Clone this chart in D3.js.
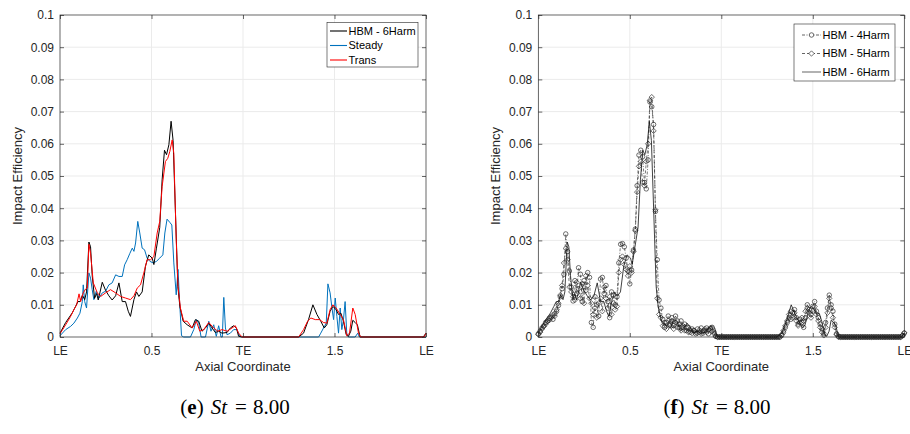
<!DOCTYPE html>
<html><head><meta charset="utf-8">
<script src="https://cdn.jsdelivr.net/npm/d3@7"></script>
<style>body{margin:0;background:#fff} svg{display:block}</style>
</head><body>
<script>
// ---------- tick labels ----------
const xTickVals = [0, 0.5, 1, 1.5, 2];
const xTickLabels = ["LE", "0.5", "TE", "1.5", "LE"];
const yTickVals = [0, 0.01, 0.02, 0.03, 0.04, 0.05, 0.06, 0.07, 0.08, 0.09, 0.1];
const yTickLabels = ["0", "0.01", "0.02", "0.03", "0.04", "0.05", "0.06", "0.07", "0.08", "0.09", "0.1"];

// ---------- panel (e) series ----------
const hbm6X = [0,0.031,0.067,0.085,0.098,0.11,0.122,0.135,0.145,0.158,0.167,0.176,0.189,0.2,0.209,0.231,0.249,0.267,0.285,0.304,0.322,0.34,0.358,0.373,0.385,0.404,0.418,0.431,0.449,0.467,0.485,0.504,0.513,0.527,0.545,0.558,0.571,0.582,0.595,0.607,0.618,0.631,0.644,0.655,0.673,0.695,0.722,0.74,0.758,0.776,0.795,0.813,0.831,0.849,0.867,0.885,0.913,0.931,0.949,0.964,0.976,0.995,1.304,1.331,1.358,1.382,1.404,1.425,1.444,1.458,1.476,1.491,1.509,1.522,1.535,1.549,1.564,1.576,1.589,1.6,1.613,1.625,1.64,1.985,2.0];
const hbm6Y = [0.0012,0.0045,0.0075,0.0095,0.011,0.011,0.013,0.0116,0.014,0.0295,0.028,0.019,0.012,0.0135,0.0115,0.017,0.0145,0.0128,0.0115,0.0128,0.0168,0.011,0.011,0.008,0.0064,0.0116,0.014,0.0126,0.014,0.022,0.0255,0.0245,0.0225,0.0276,0.034,0.0488,0.058,0.0566,0.0597,0.067,0.061,0.0385,0.0157,0.0095,0.0049,0.0038,0.0028,0.0054,0.0049,0.0018,0.0028,0.0043,0.0028,0.0014,0.0018,0.0012,0.0014,0.0028,0.0035,0.0028,0.0002,0,0,0.0012,0.0054,0.01,0.007,0.0049,0.0028,0.0038,0.008,0.0095,0.0085,0.007,0.0074,0.0049,0.0007,0.0002,0.0018,0.0052,0.0045,0.0038,0,0,0.0012];

const steadyX = [0,0.031,0.058,0.076,0.095,0.109,0.122,0.127,0.135,0.145,0.158,0.167,0.176,0.185,0.198,0.213,0.231,0.249,0.267,0.285,0.304,0.322,0.34,0.353,0.367,0.382,0.395,0.404,0.413,0.425,0.436,0.449,0.462,0.476,0.491,0.509,0.527,0.545,0.562,0.573,0.585,0.6,0.611,0.622,0.635,0.645,0.653,0.664,0.676,0.713,0.731,0.745,0.758,0.771,0.795,0.813,0.825,0.84,0.854,0.867,0.88,0.887,0.895,0.904,0.913,0.931,0.949,0.967,0.982,0.995,1.413,1.425,1.44,1.455,1.464,1.476,1.485,1.495,1.504,1.513,1.522,1.531,1.54,1.549,1.558,1.567,1.576,1.613,1.627,1.636,2.0];
const steadyY = [0.0004,0.0023,0.0033,0.0043,0.0059,0.0074,0.011,0.0162,0.011,0.009,0.0199,0.0183,0.0147,0.0116,0.0142,0.0121,0.0137,0.0142,0.0162,0.0168,0.0193,0.0188,0.0188,0.0224,0.024,0.026,0.0276,0.0266,0.0292,0.0359,0.0323,0.0276,0.0271,0.0245,0.0235,0.023,0.0235,0.0245,0.0255,0.0323,0.0366,0.0356,0.0348,0.023,0.0131,0.021,0.0116,0.0004,0,0,0.0023,0.0054,0.0043,0,0,0.0049,0.0018,0.0038,0.0002,0.0035,0,0,0.0123,0.0028,0.0007,0.0012,0.0023,0.0023,0.0002,0,0,0.0012,0.0028,0.0043,0.0165,0.0137,0.0095,0.0054,0.0121,0.0064,0.0012,0.009,0.0023,0.0054,0.011,0.0012,0,0,0.0012,0,0];

const transX = [0,0.031,0.058,0.076,0.091,0.104,0.113,0.127,0.14,0.149,0.158,0.167,0.182,0.204,0.222,0.249,0.276,0.304,0.331,0.358,0.385,0.404,0.422,0.44,0.458,0.476,0.495,0.513,0.531,0.545,0.558,0.576,0.589,0.6,0.613,0.622,0.635,0.645,0.658,0.676,0.695,0.722,0.745,0.764,0.785,0.813,0.84,0.862,0.885,0.913,0.94,0.958,0.976,0.995,1.304,1.331,1.353,1.371,1.395,1.418,1.44,1.458,1.476,1.491,1.509,1.531,1.549,1.567,1.582,1.6,1.613,1.631,1.644,1.99,2.0];
const transY = [0.001,0.0038,0.0064,0.0085,0.01,0.0134,0.011,0.0137,0.0149,0.0152,0.0288,0.026,0.0168,0.0137,0.0126,0.0137,0.0147,0.0137,0.0126,0.0121,0.0116,0.0128,0.0152,0.0162,0.0199,0.024,0.024,0.025,0.0323,0.0359,0.0467,0.0545,0.0555,0.0576,0.0612,0.057,0.0302,0.0157,0.009,0.0049,0.0049,0.0028,0.0049,0.0018,0.0023,0.0045,0.0028,0.0018,0.0023,0.0018,0.0028,0.0035,0.0012,0,0,0.0023,0.0049,0.0059,0.0054,0.0054,0.0045,0.0043,0.0085,0.01,0.009,0.007,0.0054,0.0004,0.0012,0.009,0.007,0.0012,0,0,0.0012];

// ---------- panel (f) series (sampled on the axial grid) ----------
const axialGrid = [
0,0.01,0.02,0.03,0.04,0.05,0.06,0.07,0.08,0.09,
0.1,0.11,0.12,0.13,0.14,0.15,0.16,0.17,0.18,0.19,
0.2,0.21,0.22,0.23,0.24,0.25,0.26,0.27,0.28,0.29,
0.3,0.31,0.32,0.33,0.34,0.35,0.36,0.37,0.38,0.39,
0.4,0.41,0.42,0.43,0.44,0.45,0.46,0.47,0.48,0.49,
0.5,0.51,0.52,0.53,0.54,0.55,0.56,0.57,0.58,0.59,
0.6,0.61,0.62,0.63,0.64,0.65,0.66,0.67,0.68,0.69,
0.7,0.71,0.72,0.73,0.74,0.75,0.76,0.77,0.78,0.79,
0.8,0.81,0.82,0.83,0.84,0.85,0.86,0.87,0.88,0.89,
0.9,0.91,0.92,0.93,0.94,0.95,0.96,0.97,0.98,0.99,
1,1.01,1.02,1.03,1.04,1.05,1.06,1.07,1.08,1.09,
1.1,1.11,1.12,1.13,1.14,1.15,1.16,1.17,1.18,1.19,
1.2,1.21,1.22,1.23,1.24,1.25,1.26,1.27,1.28,1.29,
1.3,1.31,1.32,1.33,1.34,1.35,1.36,1.37,1.38,1.39,
1.4,1.41,1.42,1.43,1.44,1.45,1.46,1.47,1.48,1.49,
1.5,1.51,1.52,1.53,1.54,1.55,1.56,1.57,1.58,1.59,
1.6,1.61,1.62,1.63,1.64,1.65,1.66,1.67,1.68,1.69,
1.7,1.71,1.72,1.73,1.74,1.75,1.76,1.77,1.78,1.79,
1.8,1.81,1.82,1.83,1.84,1.85,1.86,1.87,1.88,1.89,
1.9,1.91,1.92,1.93,1.94,1.95,1.96,1.97,1.98,1.99,
2];
const harm4Y = [
0.0010,0.0018,0.0028,0.0035,0.0045,0.0050,0.0058,0.0062,0.0055,0.0072,
0.0080,0.0098,0.0125,0.0150,0.0195,0.0320,0.0265,0.0205,0.0155,0.0112,
0.0175,0.0135,0.0215,0.0195,0.0110,0.0175,0.0145,0.0200,0.0185,0.0045,
0.0030,0.0125,0.0100,0.0065,0.0180,0.0185,0.0135,0.0160,0.0110,0.0060,
0.0140,0.0130,0.0100,0.0125,0.0230,0.0288,0.0290,0.0280,0.0245,0.0205,
0.0165,0.0208,0.0270,0.0335,0.0470,0.0565,0.0580,0.0560,0.0480,0.0460,
0.0550,0.0730,0.0715,0.0660,0.0390,0.0240,0.0115,0.0090,0.0055,0.0030,
0.0045,0.0065,0.0040,0.0060,0.0035,0.0065,0.0050,0.0030,0.0050,0.0030,
0.0040,0.0020,0.0030,0.0015,0.0025,0.0020,0.0010,0.0025,0.0015,0.0028,
0.0012,0.0020,0.0028,0.0010,0.0025,0.0030,0.0015,0.0002,0,0,
0,0,0,0,0,0,0,0,0,0,
0,0,0,0,0,0,0,0,0,0,
0,0,0,0,0,0,0,0,0,0,
0,0,0,0.0005,0.0015,0.0030,0.0045,0.0060,0.0055,0.0075,
0.0085,0.0060,0.0040,0.0055,0.0045,0.0030,0.0060,0.0100,0.0085,0.0070,
0.0095,0.0110,0.0080,0.0060,0.0040,0.0025,0.0010,0.0045,0.0090,0.0130,
0.0100,0.0080,0.0040,0.0010,0.0002,0,0,0,0,0,
0,0,0,0,0,0,0,0,0,0,
0,0,0,0,0,0,0,0,0,0,
0,0,0,0,0,0,0,0,0,0.0004,
0.0012];
const harm5Y = [
0.0008,0.0015,0.0025,0.0033,0.0040,0.0048,0.0052,0.0060,0.0068,0.0065,
0.0085,0.0105,0.0130,0.0160,0.0230,0.0275,0.0240,0.0155,0.0140,0.0125,
0.0115,0.0170,0.0150,0.0120,0.0165,0.0105,0.0190,0.0160,0.0120,0.0105,
0.0070,0.0090,0.0060,0.0105,0.0120,0.0080,0.0155,0.0120,0.0090,0.0125,
0.0070,0.0105,0.0085,0.0095,0.0200,0.0240,0.0250,0.0225,0.0210,0.0190,
0.0220,0.0200,0.0265,0.0330,0.0450,0.0530,0.0545,0.0480,0.0470,0.0545,
0.0600,0.0735,0.0745,0.0640,0.0395,0.0120,0.0070,0.0060,0.0035,0.0045,
0.0025,0.0050,0.0035,0.0050,0.0025,0.0045,0.0030,0.0040,0.0020,0.0035,
0.0020,0.0028,0.0015,0.0022,0.0012,0.0020,0.0015,0.0012,0.0022,0.0010,
0.0018,0.0025,0.0015,0.0022,0.0028,0.0018,0.0010,0.0002,0,0,
0,0,0,0,0,0,0,0,0,0,
0,0,0,0,0,0,0,0,0,0,
0,0,0,0,0,0,0,0,0,0,
0,0,0,0.0008,0.0020,0.0035,0.0050,0.0070,0.0080,0.0060,
0.0075,0.0050,0.0035,0.0045,0.0060,0.0050,0.0080,0.0090,0.0075,0.0060,
0.0080,0.0095,0.0070,0.0050,0.0030,0.0015,0.0005,0.0030,0.0075,0.0120,
0.0090,0.0060,0.0030,0.0008,0,0,0,0,0,0,
0,0,0,0,0,0,0,0,0,0,
0,0,0,0,0,0,0,0,0,0,
0,0,0,0,0,0,0,0,0,0.0005,
0.0013];

const legendE = ["HBM - 6Harm", "Steady", "Trans"];
const legendF = ["HBM - 4Harm", "HBM - 5Harm", "HBM - 6Harm"];

// ---------- drawing ----------
const FONT = "'Liberation Sans', Arial, Helvetica, sans-serif";
const AX = "#262626";
const svg = d3.select("body").append("svg").attr("width", 910).attr("height", 434)
  .style("font-family", FONT);

function panel(x0, x1) {
  const x = d3.scaleLinear().domain([0, 2]).range([x0, x1]);
  const y = d3.scaleLinear().domain([0, 0.1]).range([337, 15]);
  const g = svg.append("g");
  g.append("g").selectAll("line").data(yTickVals.slice(1, -1)).join("line")
    .attr("x1", x0).attr("x2", x1).attr("y1", d => y(d)).attr("y2", d => y(d))
    .attr("stroke", "#ebebeb").attr("stroke-width", 1);
  g.append("g").selectAll("line").data(xTickVals.slice(1, -1)).join("line")
    .attr("x1", d => x(d)).attr("x2", d => x(d)).attr("y1", 15).attr("y2", 337)
    .attr("stroke", "#ebebeb").attr("stroke-width", 1);
  return { x, y, g };
}

function axes(p, x0, x1) {
  const { x, y, g } = p;
  const style = sel => {
    sel.select(".domain").remove();
    sel.selectAll("line").attr("stroke", AX).attr("stroke-width", 0.7);
    sel.selectAll("text").attr("fill", AX).style("font-family", FONT).style("font-size", "12px");
  };
  g.append("g").attr("transform", "translate(0,337)")
    .call(d3.axisBottom(x).tickValues(xTickVals).tickFormat((d, i) => xTickLabels[i]).tickSize(-4).tickPadding(9))
    .call(style);
  g.append("g").attr("transform", "translate(0,15)")
    .call(d3.axisTop(x).tickValues(xTickVals).tickFormat("").tickSize(-4)).call(style);
  g.append("g").attr("transform", `translate(${x0},0)`)
    .call(d3.axisLeft(y).tickValues(yTickVals).tickFormat((d, i) => yTickLabels[i]).tickSize(-4).tickPadding(6))
    .call(style);
  g.append("g").attr("transform", `translate(${x1},0)`)
    .call(d3.axisRight(y).tickValues(yTickVals).tickFormat("").tickSize(-4)).call(style);
  g.append("rect").attr("x", x0).attr("y", 15).attr("width", x1 - x0).attr("height", 322)
    .attr("fill", "none").attr("stroke", AX).attr("stroke-width", 0.7);
  g.append("text").attr("x", (x0 + x1) / 2).attr("y", 371).attr("text-anchor", "middle")
    .attr("fill", AX).style("font-size", "13px").text("Axial Coordinate");
  g.append("text").attr("transform", `translate(${x0 - 38.5},176) rotate(-90)`).attr("text-anchor", "middle")
    .attr("fill", AX).style("font-size", "13px").text("Impact Efficiency");
}

// ---- panel e ----
const E0 = 60, E1 = 426;
const pe = panel(E0, E1);
const lineE = d3.line().x(d => pe.x(d[0])).y(d => pe.y(d[1]));
const seriesE = [
  { x: steadyX, y: steadyY, color: "#0072BD" },
  { x: hbm6X, y: hbm6Y, color: "#000000" },
  { x: transX, y: transY, color: "#FF0000" }
];
seriesE.forEach(s => {
  pe.g.append("path").datum(d3.zip(s.x, s.y)).attr("d", lineE)
    .attr("fill", "none").attr("stroke", s.color).attr("stroke-width", 1).attr("stroke-linejoin", "round");
});
axes(pe, E0, E1);
{
  const lg = svg.append("g");
  lg.append("rect").attr("x", 327).attr("y", 22.5).attr("width", 91).attr("height", 44.5)
    .attr("fill", "#fff").attr("stroke", AX).attr("stroke-width", 0.6);
  const cols = ["#000000", "#0072BD", "#FF0000"];
  legendE.forEach((t, i) => {
    const yy = 31 + i * 14.5;
    lg.append("line").attr("x1", 330).attr("x2", 347).attr("y1", yy).attr("y2", yy)
      .attr("stroke", cols[i]).attr("stroke-width", 1.1);
    lg.append("text").attr("x", 348.5).attr("y", yy).attr("dy", "0.35em").attr("fill", "#000")
      .style("font-size", "11px").text(t);
  });
}

// ---- panel f ----
const F0 = 538.3, F1 = 904.3;
const pf = panel(F0, F1);
const lineF = d3.line().x(d => pf.x(d[0])).y(d => pf.y(d[1]));
const MK = "#222";
const circ = d3.symbol(d3.symbolCircle, 16);
const diam = d3.symbol(d3.symbolDiamond2, 18);
const d4 = d3.zip(axialGrid, harm4Y), d5 = d3.zip(axialGrid, harm5Y);
pf.g.append("path").datum(d4).attr("d", lineF).attr("fill", "none").attr("stroke", MK)
  .attr("stroke-width", 0.6).attr("stroke-dasharray", "3,1.5,1,1.5");
pf.g.append("g").selectAll("path").data(d4).join("path")
  .attr("transform", d => `translate(${pf.x(d[0])},${pf.y(d[1])})`).attr("d", circ)
  .attr("fill", "none").attr("stroke", MK).attr("stroke-width", 0.65);
pf.g.append("path").datum(d5).attr("d", lineF).attr("fill", "none").attr("stroke", MK)
  .attr("stroke-width", 0.6).attr("stroke-dasharray", "3,2");
pf.g.append("g").selectAll("path").data(d5).join("path")
  .attr("transform", d => `translate(${pf.x(d[0])},${pf.y(d[1])})`).attr("d", diam)
  .attr("fill", "none").attr("stroke", MK).attr("stroke-width", 0.65);
pf.g.append("path").datum(d3.zip(hbm6X, hbm6Y)).attr("d", lineF).attr("fill", "none")
  .attr("stroke", "#111").attr("stroke-width", 0.8);
axes(pf, F0, F1);
{
  const lg = svg.append("g");
  lg.append("rect").attr("x", 794).attr("y", 24).attr("width", 101).attr("height", 57)
    .attr("fill", "#fff").attr("stroke", AX).attr("stroke-width", 0.6);
  const dash = ["3,1.5,1,1.5", "3,2", null];
  const sym = [circ, diam, null];
  legendF.forEach((t, i) => {
    const yy = 35 + i * 18.5;
    const l = lg.append("line").attr("x1", 802).attr("x2", 821).attr("y1", yy).attr("y2", yy)
      .attr("stroke", MK).attr("stroke-width", 0.7);
    if (dash[i]) l.attr("stroke-dasharray", dash[i]);
    if (sym[i]) lg.append("path").attr("transform", `translate(811.5,${yy})`).attr("d", sym[i])
      .attr("fill", "#fff").attr("stroke", MK).attr("stroke-width", 0.65);
    lg.append("text").attr("x", 822.5).attr("y", yy).attr("dy", "0.35em").attr("fill", "#000")
      .style("font-size", "11px").text(t);
  });
}

// ---- captions ----
const captions = [{ cx: 235, tag: "e" }, { cx: 717, tag: "f" }];
captions.forEach(c => {
  const t = svg.append("text").attr("x", c.cx).attr("y", 414).attr("text-anchor", "middle")
    .style("font-family", "'Liberation Serif', 'DejaVu Serif', serif").style("font-size", "21px").attr("fill", "#000");
  t.append("tspan").text("(");
  t.append("tspan").attr("font-weight", "bold").text(c.tag);
  t.append("tspan").text(")");
  t.append("tspan").attr("dx", 7).attr("font-style", "italic").text("St");
  t.append("tspan").attr("dx", 8).text("=");
  t.append("tspan").attr("dx", 6).text("8.00");
});
</script>
</body></html>
